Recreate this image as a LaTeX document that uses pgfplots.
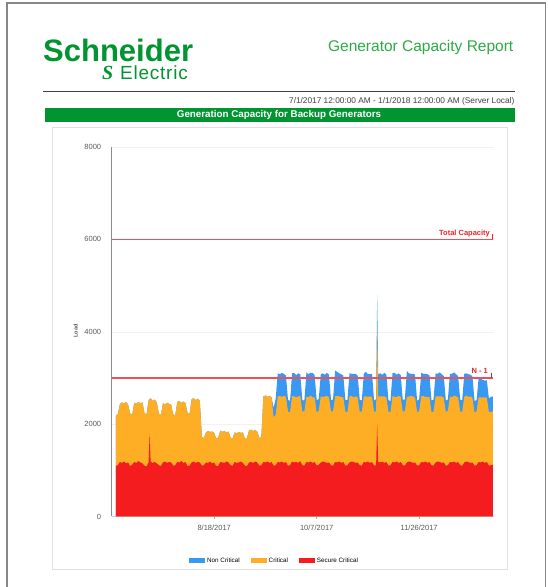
\documentclass[border=0pt]{standalone}
\usepackage{fontspec}
\setmainfont{Liberation Sans}
\newfontfamily\logofont[LetterSpace=4.0]{Liberation Sans}
\newfontfamily\symfont{Liberation Serif}
\usepackage{pgfplots}
\usepackage{pgfplotstable}
\pgfplotsset{compat=1.18}

\definecolor{segreen}{RGB}{0,149,48}
\definecolor{titlegreen}{RGB}{45,170,70}
\definecolor{ncblue}{RGB}{56,152,242}
\definecolor{corange}{RGB}{253,174,36}
\definecolor{scred}{RGB}{245,28,32}
\definecolor{limitred}{RGB}{240,80,85}
\definecolor{labred}{RGB}{235,35,45}
\definecolor{ticktext}{RGB}{90,90,90}
\definecolor{pageline}{RGB}{135,135,135}

% shared geometry of the load chart
\pgfplotsset{loadframe/.style={
  at={(111.7pt,70.5pt)}, anchor=south west,
  scale only axis, width=382.3pt, height=369.5pt,
  xmin=-2, xmax=184.5, ymin=0, ymax=8000}}

% daily load per class (day 0 = 7/1/2017)
\pgfplotstableread{
day sc cr nc
0 1100 1090 0
1 1110 1100 0
2 1180 1250 0
3 1160 1310 0
4 1190 1260 0
5 1150 1330 0
6 1170 1250 0
7 1090 1140 0
8 1120 1080 0
9 1180 1280 0
10 1160 1280 0
11 1200 1280 0
12 1170 1280 0
13 1150 1320 0
14 1100 1140 0
15 1080 1130 0
16 1170 1350 0
16.5 1790 750 0
17 1190 1370 0
18 1160 1340 0
19 1180 1350 0
20 1150 1320 0
21 1110 1120 0
22 1090 1110 0
23 1170 1280 0
24 1190 1240 0
25 1160 1300 0
26 1180 1260 0
27 1170 1250 0
28 1100 1110 0
29 1110 1080 0
30 1180 1300 0
31 1170 1330 0
32 1200 1260 0
33 1160 1330 0
34 1180 1270 0
35 1090 1150 0
36 1100 1120 0
37 1170 1370 0
38 1190 1370 0
39 1160 1360 0
40 1180 1370 0
41 1170 1330 0
42 1100 620 0
43 1110 590 0
44 1170 650 0
45 1160 690 0
46 1190 640 0
47 1150 690 0
48 1170 640 0
49 1090 600 0
50 1100 610 0
51 1180 680 0
52 1170 660 0
53 1160 690 0
54 1190 630 0
55 1170 670 0
56 1110 590 0
57 1100 590 0
58 1180 640 0
59 1160 640 0
60 1170 660 0
61 1190 620 0
62 1160 660 0
63 1100 580 0
64 1090 610 0
65 1170 690 0
66 1180 700 0
67 1160 690 0
68 1190 680 0
69 1170 670 0
70 1100 600 0
71 1110 610 0
72 1180 1420 0
73 1170 1450 0
74 1190 1400 0
75 1160 1450 0
76 1180 1400 0
77 1100 1050 200
78 1110 1090 350
79 1180 1420 500
80 1170 1440 470
81 1190 1400 520
82 1160 1450 480
83 1180 1410 460
84 1100 1170 260
85 1110 1150 240
86 1190 1420 490
87 1170 1430 510
88 1180 1400 480
89 1160 1440 500
90 1200 1410 470
91 1110 1160 250
92 1100 1180 230
93 1180 1420 520
94 1170 1410 500
95 1190 1430 490
96 1160 1420 530
97 1180 1400 480
98 1100 1150 270
99 1120 1170 250
100 1170 1430 480
101 1190 1400 510
102 1180 1420 470
103 1160 1450 500
104 1170 1410 490
105 1110 1160 240
106 1100 1180 260
107 1180 1420 560
108 1170 1440 520
109 1190 1410 500
110 1160 1430 490
111 1180 1400 470
112 1100 1170 250
113 1110 1150 260
114 1170 1430 500
115 1190 1420 480
116 1180 1400 510
117 1160 1440 490
118 1170 1410 470
119 1110 1160 260
120 1100 1170 240
121 1180 1420 500
122 1170 1430 530
123 1190 1400 490
124 1160 1440 480
125 1180 1410 500
126 1100 1160 250
127 1110 1170 260
127.5 2000 2100 700
128 1180 1420 480
129 1170 1430 500
130 1190 1410 470
131 1160 1440 510
132 1180 1400 490
133 1100 1170 250
134 1110 1150 240
135 1180 1430 500
136 1170 1420 520
137 1190 1400 480
138 1160 1450 490
139 1180 1410 470
140 1110 1160 260
141 1100 1180 250
142 1170 1420 560
143 1190 1410 500
144 1180 1430 480
145 1160 1440 490
146 1170 1400 500
147 1100 1160 240
148 1110 1170 260
149 1180 1420 510
150 1170 1440 480
151 1190 1400 500
152 1160 1430 490
153 1180 1410 470
154 1110 1150 250
155 1100 1170 260
156 1170 1430 500
157 1190 1410 490
158 1180 1420 520
159 1160 1440 480
160 1170 1400 470
161 1100 1160 250
162 1110 1180 240
163 1180 1420 490
164 1170 1410 510
165 1190 1430 500
166 1160 1440 480
167 1180 1400 460
168 1110 1160 260
169 1100 1170 250
170 1170 1420 500
171 1190 1430 480
172 1180 1410 490
173 1160 1440 470
174 1170 1400 460
175 1100 1150 250
176 1110 1170 240
177 1180 1400 420
178 1170 1410 400
179 1190 1390 380
180 1160 1420 360
181 1180 1390 380
182 1100 1160 300
183 1110 1150 330
184 1120 1160 320
}\loaddata

% capacity limits: total capacity and N-1
\pgfplotstableread{
day total nminus
-2 6000 3000
183.8 6000 3000
}\limitdata

\begin{document}
\begin{tikzpicture}[x=1pt,y=1pt]
\useasboundingbox (0,0) rectangle (547,587);
\fill[white] (0,0) rectangle (547,587);

% page outline
\draw[line width=1.4pt, pageline] (7,-2) -- (7,584) -- (545.5,584) -- (545.5,-2);

% header
\node[anchor=base west, inner sep=0, text=segreen, font=\fontsize{31}{31}\selectfont\bfseries] at (43,525.5) {Schneider};
\node[anchor=base west, inner sep=0, text=segreen, font=\symfont\fontsize{20}{20}\selectfont\bfseries\itshape] at (102,507.2) {S};
\node[anchor=base west, inner sep=0, text=segreen, font=\logofont\fontsize{19}{19}\selectfont] at (120,507.2) {Electric};
\node[anchor=base east, inner sep=0, text=titlegreen, font=\fontsize{15.5}{16}\selectfont] at (513.5,535.3) {Generator Capacity Report};
\draw[line width=1.1pt, black!75] (43,495.5) -- (515,495.5);
\node[anchor=base east, inner sep=0, text=black!75, font=\fontsize{8.3}{9}\selectfont] at (514.5,483) {7/1/2017 12:00:00 AM - 1/1/2018 12:00:00 AM (Server Local)};

% section bar
\fill[segreen] (44.5,465.3) rectangle (515,478.7);
\node[anchor=base, inner sep=0, text=white, font=\fontsize{9.8}{10}\selectfont\bfseries] at (279,469.2) {Generation Capacity for Backup Generators};

% chart frame
\draw[line width=0.8pt, black!12] (52,17.7) rectangle (507,459.7);

\begin{axis}[
  loadframe,
  axis x line=bottom, axis y line=left,
  axis line style={-},
  x axis line style={draw=gray!40},
  y axis line style={draw=gray!90, line width=0.9pt},
  xtick={48,98,148}, xticklabels={8/18/2017,10/7/2017,11/26/2017},
  ytick={0,2000,4000,6000,8000},
  scaled y ticks=false,
  /pgf/number format/1000 sep={},
  /pgf/number format/assume math mode=true,
  tick label style={font=\fontsize{7.5}{9}\selectfont, text=ticktext},
  ytick style={draw=none},
  xtick style={draw=gray!60, thin},
  major tick length=3pt,
  tick align=outside,
  ymajorgrids, grid style={draw=gray!10},
  yticklabel style={xshift=-4pt},
  xticklabel style={yshift=-2pt},
  ylabel={Load},
  ylabel style={at={(axis description cs:-0.094,0.502)}, anchor=center, font=\fontsize{5.5}{6}\selectfont\bfseries, text=ticktext},
  legend columns=3,
  legend style={draw=none, fill=none, at={(0.426,-0.1196)}, anchor=center,
    font=\fontsize{6.3}{7}\selectfont,
    /tikz/every even column/.append style={column sep=9pt}},
  legend image code/.code={\fill[#1, draw=none] (0pt,-2.5pt) rectangle (16pt,2.5pt);},
]
\addlegendimage{fill=ncblue}
\addlegendimage{fill=corange}
\addlegendimage{fill=scred}
\legend{Non Critical, Critical, Secure Critical}

% stacked areas: each layer filled from zero up to its running total
\addplot[fill=ncblue, draw=none] table[x=day, y expr=\thisrow{sc}+\thisrow{cr}+\thisrow{nc}] {\loaddata} \closedcycle;
\addplot[fill=corange, draw=none] table[x=day, y expr=\thisrow{sc}+\thisrow{cr}] {\loaddata} \closedcycle;
\addplot[fill=scred, draw=none] table[x=day, y=sc] {\loaddata} \closedcycle;
\end{axis}

% limit lines on top of the areas, same frame
\begin{axis}[
  loadframe,
  hide axis,
]
\addplot[draw=limitred, line width=1.5pt, mark=none] table[x=day, y=total] {\limitdata};
\addplot[draw=limitred, line width=1.5pt, mark=none] table[x=day, y=nminus] {\limitdata};
\addplot[draw=labred, line width=0.8pt] coordinates {(183.6,6000) (183.6,6110)};
\addplot[draw=labred, line width=0.8pt] coordinates {(183.0,3000) (183.0,3110)};
\node[anchor=base east, inner sep=0, text=labred, font=\fontsize{7.5}{8}\selectfont\bfseries] at (axis cs:182.6,6080) {Total Capacity};
\node[anchor=base east, inner sep=0, text=labred, font=\fontsize{7.5}{8}\selectfont\bfseries] at (axis cs:181.6,3100) {N - 1};
\end{axis}
\end{tikzpicture}
\end{document}
